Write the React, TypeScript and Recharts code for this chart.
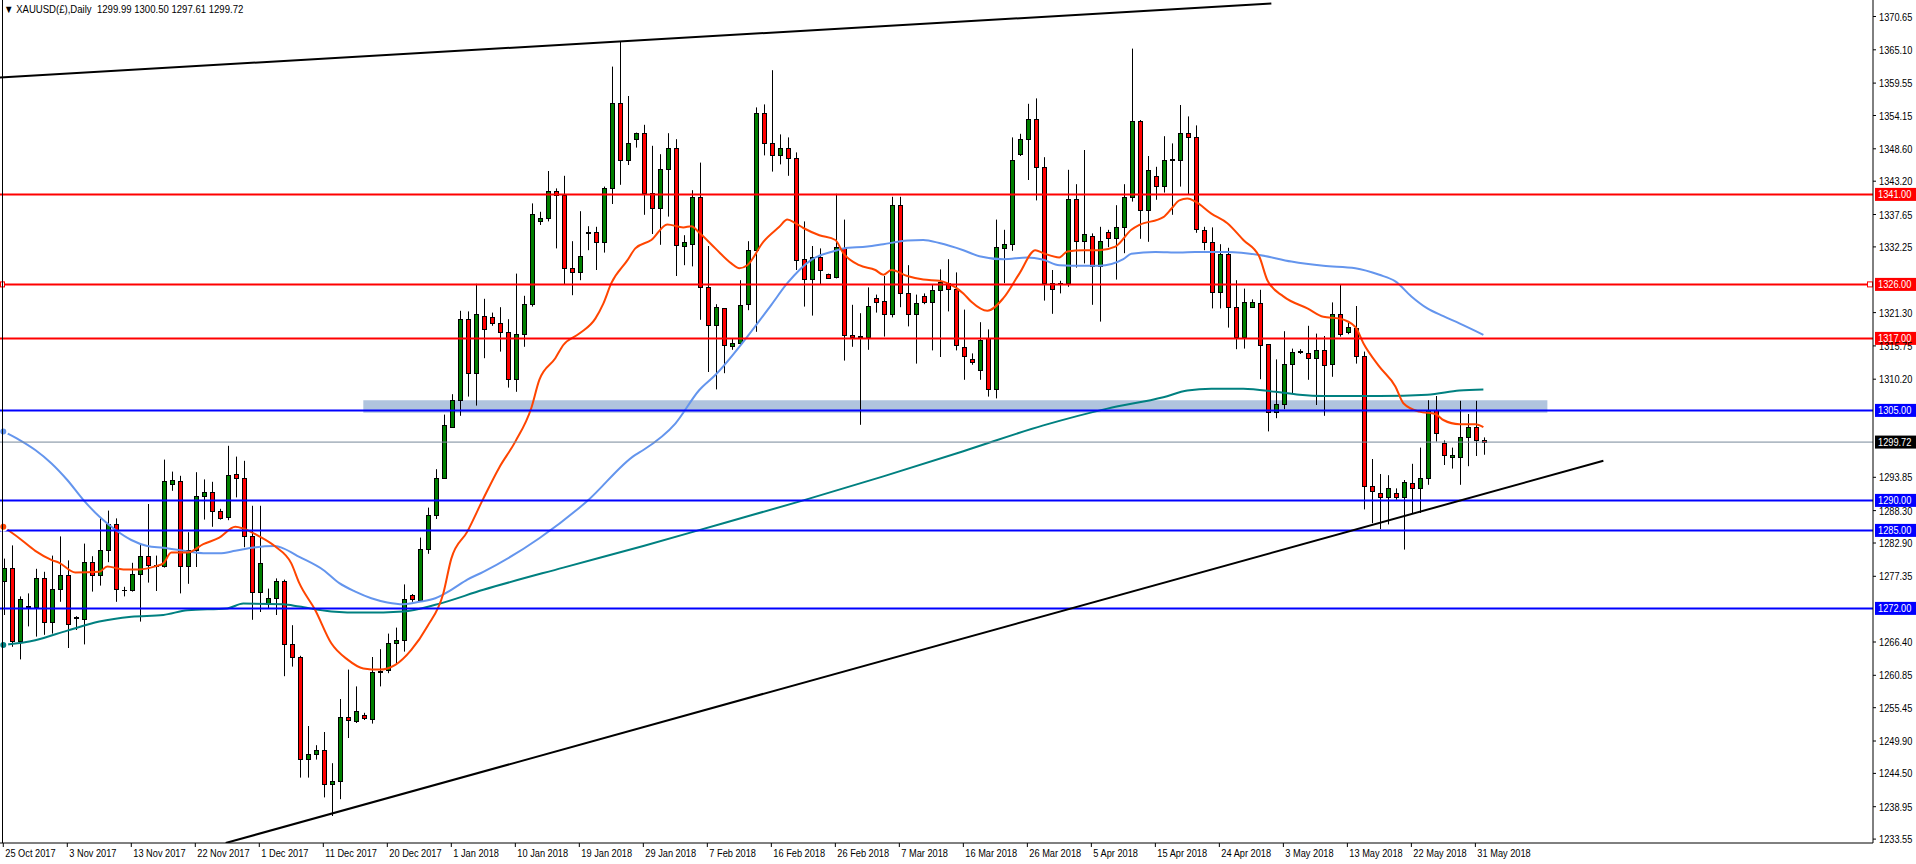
import React from 'react';
import { ComposedChart, Bar, Line, XAxis, YAxis, ReferenceLine, ReferenceArea } from 'recharts';

const FONT = '"Liberation Sans", Arial, sans-serif';

// date label every 8 bars
const tickLabels = [
  '25 Oct 2017', '3 Nov 2017', '13 Nov 2017', '22 Nov 2017', '1 Dec 2017', '11 Dec 2017',
  '20 Dec 2017', '1 Jan 2018', '10 Jan 2018', '19 Jan 2018', '29 Jan 2018', '7 Feb 2018',
  '16 Feb 2018', '26 Feb 2018', '7 Mar 2018', '16 Mar 2018', '26 Mar 2018', '5 Apr 2018',
  '15 Apr 2018', '24 Apr 2018', '3 May 2018', '13 May 2018', '22 May 2018', '31 May 2018',
];

const priceTicks = [
  1370.65, 1365.1, 1359.55, 1354.15, 1348.6, 1343.2, 1337.65, 1332.25, 1321.3,
  1315.75, 1310.2, 1293.85, 1288.3, 1282.9, 1277.35, 1266.4,
  1260.85, 1255.45, 1249.9, 1244.5, 1238.95, 1233.55,
];

const open = [
  1276.5, 1278.8, 1266.6, 1272.3, 1272.3, 1277.0, 1269.8, 1275.3, 1277.5, 1270.4,
  1270.3, 1279.8, 1277.5, 1281.8, 1286.0, 1275.0, 1275.0, 1277.8, 1280.8, 1279.2,
  1279.1, 1292.8, 1293.3, 1279.1, 1281.8, 1290.8, 1291.4, 1288.2, 1287.2, 1294.4,
  1293.7, 1284.0, 1274.8, 1272.8, 1273.8, 1276.5, 1266.0, 1263.9, 1246.9, 1247.7,
  1248.4, 1242.8, 1243.3, 1253.9, 1253.2, 1254.3, 1253.6, 1261.4, 1261.8, 1266.3,
  1266.8, 1274.2, 1273.4, 1281.9, 1287.5, 1293.8, 1302.3, 1306.7, 1320.3, 1311.2,
  1320.8, 1320.5, 1319.5, 1318.0, 1310.3, 1317.8, 1322.8, 1336.5, 1337.0, 1341.6,
  1340.9, 1328.7, 1328.0, 1334.8, 1334.7, 1333.1, 1342.0, 1356.3, 1346.8, 1350.3,
  1351.2, 1341.3, 1338.7, 1345.3, 1348.7, 1332.4, 1332.7, 1340.5, 1325.5, 1319.2,
  1322.0, 1315.8, 1316.2, 1322.7, 1331.8, 1354.5, 1349.5, 1347.5, 1348.8, 1347.0,
  1330.2, 1326.9, 1330.5, 1327.7, 1327.2, 1332.0, 1317.5, 1317.4, 1317.3, 1323.7,
  1323.2, 1321.0, 1339.2, 1324.5, 1321.0, 1324.1, 1323.0, 1325.0, 1326.3, 1325.3,
  1315.6, 1313.5, 1311.7, 1317.1, 1308.5, 1332.0, 1332.8, 1347.8, 1350.2, 1353.5,
  1345.5, 1326.3, 1326.2, 1326.3, 1340.2, 1333.3, 1334.1, 1329.0, 1334.7, 1333.8,
  1335.6, 1340.5, 1353.2, 1338.4, 1344.0, 1342.4, 1346.8, 1346.8, 1351.2, 1350.5,
  1335.0, 1333.1, 1324.7, 1331.0, 1322.2, 1317.3, 1322.3, 1322.9, 1316.0, 1304.7,
  1306.0, 1312.7, 1314.8, 1314.6, 1313.8, 1315.1, 1312.7, 1321.0, 1318.1, 1318.8,
  1314.1, 1292.4, 1291.3, 1290.5, 1291.3, 1290.5, 1292.9, 1292.1, 1293.8, 1305.0,
  1299.6, 1297.2, 1297.3, 1300.6, 1302.2, 1299.99,
];

const high = [
  1280.3, 1282.5, 1274.0, 1274.5, 1278.6, 1278.1, 1280.8, 1284.0, 1280.0, 1270.7,
  1282.8, 1280.7, 1287.1, 1288.3, 1287.0, 1275.6, 1279.6, 1282.9, 1289.4, 1280.8,
  1296.8, 1294.8, 1294.1, 1284.7, 1294.7, 1293.5, 1293.1, 1288.6, 1299.1, 1297.3,
  1296.6, 1289.1, 1289.1, 1275.3, 1277.0, 1276.8, 1269.2, 1264.1, 1252.4, 1249.2,
  1251.4, 1246.2, 1256.9, 1261.8, 1259.0, 1254.6, 1263.9, 1265.2, 1267.8, 1268.8,
  1276.0, 1274.4, 1283.8, 1288.8, 1295.2, 1304.3, 1307.7, 1321.6, 1321.5, 1326.1,
  1323.6, 1321.3, 1322.2, 1320.2, 1327.8, 1324.1, 1339.5, 1338.1, 1344.9, 1342.0,
  1344.1, 1333.2, 1338.2, 1335.7, 1335.6, 1342.3, 1362.3, 1366.5, 1357.4, 1351.3,
  1352.6, 1349.1, 1347.7, 1351.2, 1350.2, 1334.2, 1341.7, 1346.3, 1332.4, 1322.7,
  1322.0, 1316.9, 1326.7, 1333.2, 1355.5, 1356.0, 1361.7, 1351.0, 1350.5, 1348.0,
  1336.5, 1332.4, 1332.0, 1327.8, 1341.1, 1336.8, 1322.6, 1321.2, 1325.5, 1324.3,
  1327.4, 1340.6, 1340.6, 1329.2, 1324.3, 1324.5, 1325.9, 1328.5, 1330.2, 1328.0,
  1321.8, 1314.5, 1319.7, 1318.5, 1336.8, 1335.1, 1350.5, 1351.1, 1356.1, 1357.0,
  1347.2, 1328.4, 1326.6, 1345.1, 1342.7, 1348.4, 1334.5, 1335.6, 1335.1, 1339.2,
  1342.7, 1365.3, 1353.4, 1347.4, 1345.6, 1350.7, 1349.5, 1355.9, 1354.0, 1352.5,
  1335.6, 1335.5, 1332.7, 1332.1, 1326.7, 1325.3, 1323.5, 1325.1, 1316.0, 1313.5,
  1318.2, 1315.3, 1315.2, 1319.1, 1317.8, 1317.4, 1323.0, 1326.0, 1319.6, 1322.4,
  1314.8, 1296.9, 1294.4, 1294.2, 1292.0, 1293.4, 1296.1, 1298.8, 1306.7, 1307.4,
  1300.0, 1298.8, 1306.6, 1304.4, 1306.6, 1300.5,
];

const low = [
  1270.9, 1265.6, 1263.5, 1269.0, 1267.3, 1267.6, 1267.8, 1273.1, 1265.4, 1268.4,
  1266.0, 1274.8, 1275.8, 1279.7, 1273.1, 1274.0, 1274.8, 1269.8, 1276.3, 1274.9,
  1278.8, 1291.6, 1274.5, 1276.1, 1278.9, 1286.8, 1285.6, 1286.8, 1286.7, 1290.5,
  1282.2, 1270.1, 1271.4, 1272.0, 1270.9, 1260.7, 1262.3, 1243.8, 1243.8, 1246.8,
  1240.5, 1237.4, 1240.2, 1250.4, 1252.9, 1253.4, 1252.8, 1259.0, 1261.2, 1262.9,
  1264.8, 1273.1, 1273.1, 1281.1, 1286.9, 1293.6, 1302.3, 1304.1, 1307.3, 1305.8,
  1313.7, 1319.1, 1314.8, 1308.8, 1308.1, 1315.6, 1322.3, 1335.9, 1336.5, 1332.0,
  1325.9, 1324.2, 1326.7, 1331.7, 1328.4, 1331.3, 1339.4, 1342.6, 1345.9, 1348.8,
  1337.6, 1334.4, 1332.6, 1337.3, 1327.4, 1329.2, 1329.0, 1320.1, 1311.4, 1308.5,
  1311.2, 1315.1, 1315.9, 1321.7, 1318.1, 1347.5, 1344.8, 1346.0, 1344.1, 1328.4,
  1322.3, 1320.8, 1325.9, 1327.0, 1327.0, 1313.3, 1315.6, 1302.6, 1315.1, 1321.3,
  1317.3, 1320.5, 1322.2, 1319.0, 1312.8, 1322.7, 1315.0, 1313.9, 1321.5, 1315.0,
  1310.1, 1312.6, 1310.1, 1307.3, 1307.0, 1326.2, 1331.6, 1347.4, 1343.4, 1340.0,
  1323.3, 1321.1, 1324.5, 1325.6, 1328.8, 1329.5, 1322.6, 1319.8, 1332.2, 1326.8,
  1331.2, 1339.8, 1333.6, 1333.1, 1340.1, 1341.3, 1337.6, 1342.3, 1341.0, 1334.6,
  1331.7, 1322.0, 1322.0, 1318.8, 1315.2, 1315.3, 1322.3, 1310.2, 1301.5, 1303.7,
  1305.2, 1307.8, 1314.4, 1310.1, 1305.9, 1304.1, 1310.6, 1317.3, 1317.7, 1312.8,
  1288.5, 1286.2, 1285.2, 1286.0, 1290.1, 1281.8, 1287.8, 1287.9, 1292.6, 1299.8,
  1295.9, 1295.3, 1292.6, 1295.7, 1297.4, 1297.61,
];

const close = [
  1278.8, 1266.5, 1273.5, 1272.4, 1277.0, 1269.8, 1275.3, 1277.6, 1269.4, 1270.5,
  1279.8, 1277.5, 1281.8, 1286.0, 1275.3, 1275.1, 1277.7, 1280.8, 1279.2, 1279.1,
  1293.3, 1293.4, 1279.1, 1281.8, 1290.8, 1291.4, 1288.3, 1287.0, 1294.3, 1293.8,
  1284.0, 1274.8, 1279.6, 1273.8, 1276.5, 1266.0, 1263.9, 1246.9, 1247.8, 1248.4,
  1242.8, 1243.3, 1253.9, 1253.4, 1254.9, 1253.7, 1261.4, 1261.5, 1266.3, 1266.8,
  1273.5, 1273.5, 1281.9, 1287.5, 1293.8, 1302.6, 1306.7, 1320.3, 1311.2, 1321.0,
  1318.5, 1319.5, 1318.0, 1310.3, 1317.8, 1322.8, 1337.7, 1337.0, 1341.6, 1340.9,
  1328.7, 1328.0, 1330.8, 1334.5, 1333.1, 1342.0, 1356.2, 1346.8, 1349.5, 1351.3,
  1341.3, 1338.7, 1345.3, 1348.8, 1332.6, 1333.0, 1340.5, 1325.5, 1319.2, 1322.2,
  1315.9, 1316.2, 1322.6, 1331.8, 1354.5, 1349.5, 1347.5, 1348.8, 1347.0, 1330.1,
  1326.9, 1330.5, 1328.4, 1327.1, 1332.3, 1317.5, 1317.3, 1317.3, 1322.4, 1323.1,
  1321.0, 1339.2, 1324.5, 1321.0, 1322.9, 1323.1, 1325.0, 1326.4, 1325.3, 1315.9,
  1314.1, 1313.1, 1316.8, 1308.5, 1332.2, 1332.8, 1346.7, 1350.2, 1353.5, 1345.5,
  1326.3, 1325.2, 1326.3, 1340.3, 1333.3, 1334.4, 1329.0, 1333.2, 1333.8, 1335.6,
  1340.5, 1353.2, 1338.4, 1345.0, 1342.4, 1346.8, 1346.9, 1351.2, 1350.5, 1335.3,
  1333.0, 1324.7, 1331.0, 1322.2, 1317.3, 1323.1, 1323.0, 1315.9, 1304.7, 1306.0,
  1312.7, 1314.8, 1314.9, 1313.8, 1315.1, 1312.5, 1321.0, 1317.8, 1318.9, 1314.1,
  1292.4, 1291.5, 1290.5, 1292.0, 1290.5, 1293.1, 1292.0, 1293.8, 1305.0, 1301.2,
  1297.5, 1297.6, 1300.6, 1302.2, 1300.1, 1299.72,
];

// moving averages: [bar, price]
const maFast: [number, number][] = [
  [0, 1285.6], [2, 1283.7], [4, 1281.6], [6, 1280.1], [7, 1279.6], [9, 1278.0], [12, 1278.1],
  [13, 1279.0], [15, 1278.5], [17, 1278.5], [19, 1279.0], [20, 1279.5], [21, 1281.3], [23, 1281.3],
  [25, 1282.7], [27, 1283.8], [29, 1285.6], [30, 1285.3], [32, 1284.0], [34, 1282.3], [36, 1279.5],
  [37, 1276.2], [39, 1271.7], [41, 1266.2], [43, 1263.5], [45, 1262.0], [47, 1261.8], [49, 1262.6],
  [51, 1265.1], [53, 1269.0], [55, 1274.5], [56, 1280.3], [58, 1284.8], [60, 1290.3], [62, 1295.5],
  [64, 1299.8], [66, 1305.4], [67, 1310.1], [69, 1313.7], [70, 1315.9], [72, 1317.8], [74, 1320.3],
  [75, 1322.8], [76, 1326.2], [78, 1330.0], [79, 1332.0], [81, 1333.4], [83, 1336.0], [85, 1335.5],
  [86, 1335.7], [87, 1334.6], [89, 1332.0], [91, 1329.5], [92, 1328.7], [93, 1329.2], [95, 1333.1],
  [97, 1335.6], [98, 1336.8], [99, 1336.2], [100, 1335.4], [102, 1334.2], [104, 1333.4], [105, 1331.2],
  [107, 1329.2], [109, 1328.4], [110, 1327.6], [111, 1328.4], [113, 1327.4], [115, 1326.8], [117, 1326.6],
  [118, 1326.2], [120, 1324.5], [121, 1323.1], [123, 1321.6], [125, 1323.7], [127, 1327.8], [129, 1331.7],
  [130, 1331.2], [132, 1330.5], [133, 1331.5], [135, 1331.7], [137, 1331.7], [139, 1332.3], [141, 1335.1],
  [142, 1335.9], [145, 1337.2], [146, 1338.6], [147, 1340.0], [148, 1340.3], [149, 1339.8], [151, 1337.8],
  [153, 1336.2], [155, 1333.4], [157, 1330.6], [158, 1326.7], [160, 1324.0], [163, 1322.0], [165, 1320.6],
  [167, 1320.3], [169, 1318.9], [170, 1316.2], [172, 1312.3], [174, 1309.0], [175, 1306.2], [177, 1304.8],
  [179, 1304.4], [180, 1303.4], [182, 1302.7], [184, 1302.7], [185, 1302.2],
];

const maMid: [number, number][] = [
  [0, 1301.5], [2, 1300.1], [4, 1298.4], [6, 1296.2], [8, 1293.4], [10, 1290.1], [12, 1287.3],
  [14, 1285.1], [16, 1283.4], [18, 1282.4], [20, 1282.1], [23, 1281.5], [25, 1281.2], [27, 1281.2],
  [29, 1281.6], [31, 1282.1], [34, 1282.4], [35, 1282.0], [37, 1280.6], [40, 1278.4], [42, 1276.2],
  [44, 1274.8], [46, 1273.7], [48, 1273.0], [50, 1272.7], [52, 1273.1], [54, 1273.7], [56, 1275.1],
  [58, 1276.8], [60, 1278.1], [67, 1283.7], [73, 1289.9], [79, 1297.6], [80, 1298.4], [84, 1302.8],
  [87, 1308.4], [89, 1310.9], [93, 1317.3], [96, 1322.6], [98, 1326.2], [101, 1330.1], [104, 1331.6],
  [105, 1332.0], [108, 1332.3], [110, 1332.7], [113, 1333.3], [115, 1333.4], [117, 1332.9], [120, 1331.7],
  [122, 1330.7], [125, 1330.2], [128, 1330.5], [130, 1330.1], [132, 1329.2], [135, 1329.1], [137, 1329.1],
  [140, 1330.2], [141, 1331.1], [144, 1331.4], [147, 1331.3], [149, 1331.4], [153, 1331.4], [157, 1330.9],
  [161, 1329.8], [165, 1329.1], [169, 1328.7], [172, 1327.6], [174, 1326.5], [176, 1324.0], [178, 1322.0],
  [180, 1320.7], [182, 1319.5], [185, 1317.6],
];

const maSlow: [number, number][] = [
  [0, 1265.9], [4, 1266.7], [8, 1268.3], [12, 1269.8], [16, 1270.6], [20, 1270.9], [23, 1271.7],
  [28, 1272.0], [30, 1272.8], [35, 1272.7], [37, 1272.3], [41, 1271.5], [45, 1271.3], [50, 1271.5],
  [54, 1272.6], [60, 1275.1], [70, 1278.8], [80, 1282.4], [90, 1286.2], [100, 1290.0], [110, 1294.0],
  [120, 1298.2], [130, 1302.5], [138, 1305.3], [145, 1307.2], [148, 1308.3], [151, 1308.6], [155, 1308.6],
  [159, 1308.1], [162, 1307.6], [165, 1307.4], [172, 1307.4], [178, 1307.6], [182, 1308.3], [185, 1308.5],
];

const resistance = [1341, 1326, 1317];
const support = [1305, 1290, 1285, 1272];
const lastPrice = 1299.72;
const zoneBars = [45, 193];
const zonePrices = [1304.6, 1306.7];
const upperTrend = [{ x: -0.41, y: 1360.5 }, { x: 158.5, y: 1372.8 }];
const lowerTrend = [{ x: 27.8, y: 1232.9 }, { x: 200, y: 1296.6 }];

const rows = open.map((o, i) => {
  const row: any = { i, o, h: high[i], l: low[i], c: close[i], range: [low[i], high[i]] };
  return row;
});
maFast.forEach(([b, v]) => { rows[b].fast = v; });
maMid.forEach(([b, v]) => { rows[b].mid = v; });
maSlow.forEach(([b, v]) => { rows[b].slow = v; });

const xTicks = tickLabels.map((_, k) => k * 8);

// the terminal font is narrower than Arial, so squeeze horizontally
const NARROW = 0.84;

function Candle(props: any) {
  const { x, y, width, height, payload } = props;
  if (x == null || y == null) return null;
  const top = Math.min(y, y + height);
  const hgt = Math.abs(height);
  const { o, h, l, c } = payload;
  const k = h - l > 0 ? hgt / (h - l) : 0;
  const cx = Math.round(x + width / 2) + 0.5;
  const yO = top + (h - o) * k;
  const yC = top + (h - c) * k;
  const bTop = Math.round(Math.min(yO, yC)) + 0.5;
  const bBot = Math.round(Math.max(yO, yC)) + 0.5;
  const up = c >= o;
  return (
    <g>
      <line x1={cx} x2={cx} y1={top} y2={top + hgt} stroke="#000" strokeWidth={1} />
      {bBot - bTop < 1 ? (
        <line x1={cx - 2.5} x2={cx + 2.5} y1={bTop} y2={bTop} stroke="#000" strokeWidth={1} />
      ) : (
        <rect x={cx - 2} y={bTop} width={4} height={bBot - bTop} fill={up ? '#008000' : '#ff0000'} stroke="#000" strokeWidth={1} />
      )}
    </g>
  );
}

function NarrowText({ x, y, fill, children }: any) {
  return (
    <g transform={`translate(${x},${y}) scale(${NARROW},1)`}>
      <text x={0} y={0} fill={fill} fontSize={11} fontFamily={FONT} textAnchor="start">
        {children}
      </text>
    </g>
  );
}

function PriceTag({ viewBox, text, bg, marker }: any) {
  const { x, y, width } = viewBox;
  const right = x + width;
  return (
    <g>
      {marker && <rect x={right - 5.5} y={y - 2.5} width={5} height={5} fill="#fff" stroke={bg} strokeWidth={1} />}
      {marker && <rect x={x + 0.5} y={y - 2.5} width={4} height={5} fill="#fff" stroke={bg} strokeWidth={1} />}
      <rect x={right + 2} y={y - 6.5} width={42} height={13} fill={bg} />
      <NarrowText x={right + 5} y={y + 4} fill="#fff">{text}</NarrowText>
    </g>
  );
}

function PriceTick({ x, y, payload }: any) {
  return <NarrowText x={x} y={y + 4} fill="#000">{Number(payload.value).toFixed(2)}</NarrowText>;
}

function DateTick({ x, y, payload }: any) {
  return <NarrowText x={x + 2} y={y + 10} fill="#000">{tickLabels[Math.round(payload.value / 8)]}</NarrowText>;
}

export default function App() {
  return (
    <div style={{ position: 'absolute', left: 0, top: 0, width: 1916, height: 864, background: '#fff', overflow: 'hidden' }}>
      <ComposedChart width={1916} height={864} data={rows} margin={{ top: 0, right: 0, bottom: 0, left: 0 }}>
        <XAxis
          dataKey="i"
          type="number"
          domain={[-0.41, 233.7]}
          allowDataOverflow
          ticks={xTicks}
          tick={<DateTick />}
          tickSize={4}
          tickMargin={0}
          height={21}
          axisLine={{ stroke: '#000' }}
          tickLine={{ stroke: '#000' }}
          interval={0}
        />
        <YAxis
          yAxisId="p"
          orientation="right"
          type="number"
          domain={[1232.9, 1373.4]}
          allowDataOverflow
          ticks={priceTicks}
          tick={<PriceTick />}
          tickSize={3}
          tickMargin={3}
          width={43}
          axisLine={{ stroke: '#000' }}
          tickLine={{ stroke: '#000' }}
          interval={0}
        />
        <ReferenceArea
          yAxisId="p"
          x1={zoneBars[0]}
          x2={zoneBars[1]}
          y1={zonePrices[0]}
          y2={zonePrices[1]}
          fill="#b0c4de"
          fillOpacity={1}
          stroke="none"
        />
        <Bar yAxisId="p" dataKey="range" barSize={5} shape={<Candle />} isAnimationActive={false} />
        <Line yAxisId="p" dataKey="slow" stroke="#008080" strokeWidth={2} dot={false} connectNulls type="monotone" isAnimationActive={false} />
        <Line yAxisId="p" dataKey="mid" stroke="#6495ed" strokeWidth={2} dot={false} connectNulls type="monotone" isAnimationActive={false} />
        <Line yAxisId="p" dataKey="fast" stroke="#ff4500" strokeWidth={2} dot={false} connectNulls type="monotone" isAnimationActive={false} />
        <ReferenceLine
          yAxisId="p"
          y={lastPrice}
          stroke="#778899"
          strokeWidth={1}
          label={(p: any) => <PriceTag viewBox={p.viewBox} text={lastPrice.toFixed(2)} bg="#000" />}
        />
        {resistance.map((v) => (
          <ReferenceLine
            key={'r' + v}
            yAxisId="p"
            y={v}
            stroke="#ff0000"
            strokeWidth={2}
            label={(p: any) => <PriceTag viewBox={p.viewBox} text={v.toFixed(2)} bg="#ff0000" marker={v === 1326} />}
          />
        ))}
        {support.map((v) => (
          <ReferenceLine
            key={'s' + v}
            yAxisId="p"
            y={v}
            stroke="#0000ff"
            strokeWidth={2}
            label={(p: any) => <PriceTag viewBox={p.viewBox} text={v.toFixed(2)} bg="#0000ff" />}
          />
        ))}
        <ReferenceLine yAxisId="p" segment={upperTrend} stroke="#000" strokeWidth={2} ifOverflow="hidden" />
        <ReferenceLine yAxisId="p" segment={lowerTrend} stroke="#000" strokeWidth={2} ifOverflow="hidden" />
      </ComposedChart>
      <div style={{ position: 'absolute', left: 2, top: 0, width: 1, height: 843, background: '#000' }} />
      <div
        style={{
          position: 'absolute',
          left: 4,
          top: 3,
          fontFamily: FONT,
          fontSize: 11,
          color: '#000',
          whiteSpace: 'pre',
          transform: 'scaleX(0.87)',
          transformOrigin: 'left top',
        }}
      >
        {'\u25BC XAUUSD(\u00A3),Daily  1299.99 1300.50 1297.61 1299.72'}
      </div>
    </div>
  );
}
